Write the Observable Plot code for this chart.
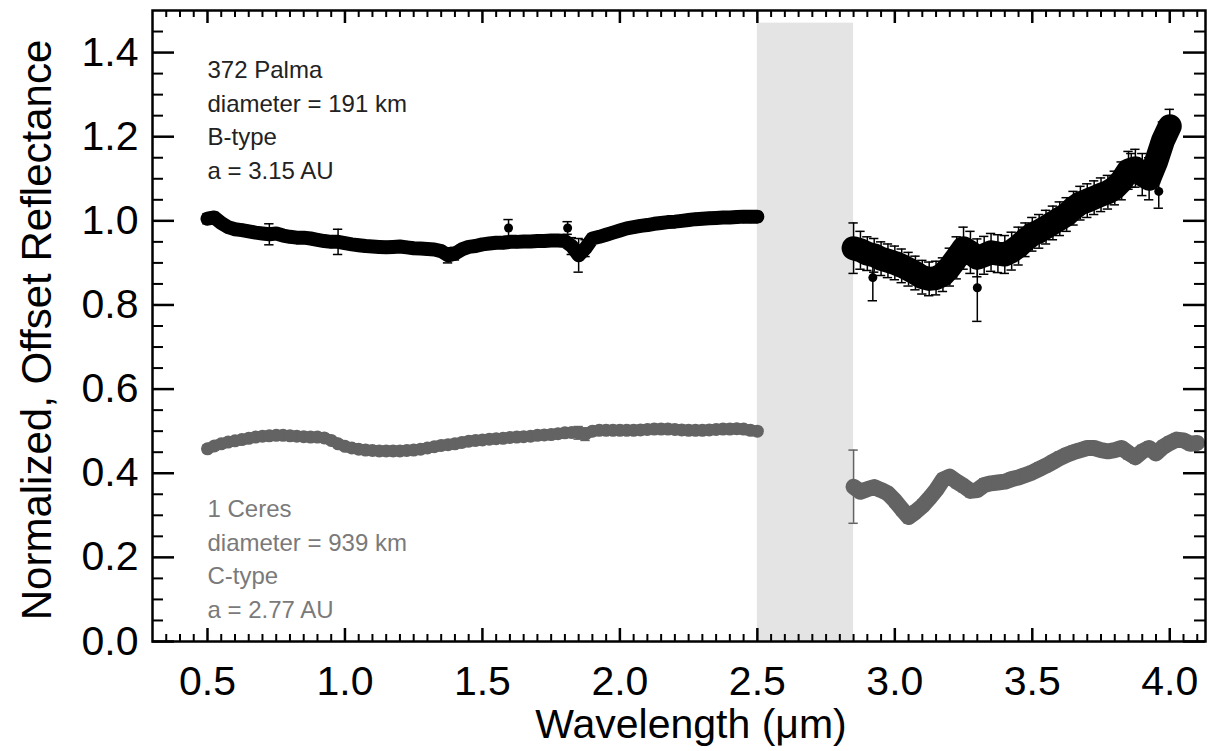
<!DOCTYPE html>
<html>
<head>
<meta charset="utf-8">
<script src="https://cdn.jsdelivr.net/npm/d3@7"></script>
<script src="https://cdn.jsdelivr.net/npm/@observablehq/plot@0.6"></script>
<style>
  html, body { margin: 0; padding: 0; background: #fff; }
  #chart { width: 1211px; height: 751px; }
</style>
</head>
<body>
<div id="chart"></div>
<script>
// ---------- Data ----------
const wlVis = [0.500,0.525,0.550,0.575,0.600,0.625,0.650,0.675,0.700,0.725,0.750,0.775,0.800,0.825,0.850,0.875,0.900,0.925,0.950,0.975,
  1.000,1.025,1.050,1.075,1.100,1.125,1.150,1.175,1.200,1.225,1.250,1.275,1.300,1.325,1.350,1.375,1.400,1.425,1.450,1.475,
  1.500,1.525,1.550,1.575,1.600,1.625,1.650,1.675,1.700,1.725,1.750,1.775,1.800,1.825,1.850,1.875,1.900,1.925,1.950,1.975,
  2.000,2.025,2.050,2.075,2.100,2.125,2.150,2.175,2.200,2.225,2.250,2.275,2.300,2.325,2.350,2.375,2.400,2.425,2.450,2.475,2.500];

const palmaVis = [1.005,1.008,0.995,0.985,0.980,0.978,0.975,0.972,0.970,0.968,0.970,0.965,0.962,0.960,0.960,0.958,0.955,0.952,0.950,0.950,
  0.947,0.944,0.942,0.940,0.939,0.938,0.937,0.938,0.939,0.937,0.935,0.934,0.933,0.932,0.928,0.918,0.922,0.932,0.938,0.940,
  0.944,0.946,0.948,0.948,0.950,0.950,0.951,0.951,0.952,0.952,0.953,0.953,0.952,0.940,0.918,0.935,0.958,0.962,0.967,0.972,
  0.977,0.982,0.985,0.988,0.990,0.993,0.995,0.997,0.998,1.000,1.002,1.004,1.005,1.006,1.007,1.008,1.008,1.009,1.010,1.010,1.010];
const palmaVisErr = [0.012,0.012,0.010,0.010,0.010,0.010,0.010,0.010,0.010,0.025,0.010,0.010,0.010,0.010,0.010,0.010,0.010,0.010,0.010,0.030,
  0.010,0.010,0.010,0.010,0.010,0.010,0.010,0.010,0.010,0.010,0.010,0.010,0.010,0.010,0.012,0.018,0.015,0.010,0.010,0.010,
  0.010,0.010,0.010,0.010,0.010,0.010,0.010,0.010,0.010,0.010,0.010,0.010,0.010,0.020,0.040,0.020,0.010,0.010,0.010,0.010,
  0.010,0.010,0.010,0.010,0.010,0.010,0.010,0.010,0.010,0.010,0.010,0.010,0.010,0.010,0.010,0.010,0.010,0.010,0.010,0.010,0.012];

const wlIrPalma = [2.850,2.875,2.900,2.925,2.950,2.975,3.000,3.025,3.050,3.075,3.100,3.125,3.150,3.175,3.200,3.225,3.250,3.275,3.300,3.325,
  3.350,3.375,3.400,3.425,3.450,3.475,3.500,3.525,3.550,3.575,3.600,3.625,3.650,3.675,3.700,3.725,3.750,3.775,3.800,3.825,
  3.850,3.875,3.900,3.925,3.950,3.975,4.000];
const palmaIr = [0.935,0.930,0.922,0.918,0.910,0.905,0.900,0.893,0.885,0.876,0.866,0.862,0.864,0.872,0.890,0.912,0.935,0.925,0.912,0.918,
  0.925,0.922,0.920,0.928,0.940,0.955,0.968,0.975,0.985,0.995,1.005,1.015,1.030,1.042,1.048,1.055,1.062,1.068,1.078,1.095,
  1.120,1.125,1.110,1.100,1.140,1.190,1.225];
const palmaIrErr = [0.060,0.045,0.040,0.040,0.040,0.040,0.040,0.040,0.040,0.040,0.040,0.040,0.040,0.040,0.045,0.050,0.050,0.050,0.045,0.045,
  0.045,0.045,0.045,0.045,0.045,0.040,0.040,0.040,0.040,0.040,0.040,0.040,0.040,0.040,0.040,0.040,0.040,0.040,0.040,0.045,
  0.045,0.045,0.050,0.050,0.050,0.045,0.040];

// isolated Palma points standing off the main trend
const palmaExtraWl  = [1.595, 1.810, 2.920, 3.300, 3.860, 3.960];
const palmaExtraR   = [0.983, 0.983, 0.865, 0.841, 1.120, 1.070];
const palmaExtraErr = [0.020, 0.015, 0.055, 0.080, 0.040, 0.040];

const ceresVis = [0.458,0.465,0.470,0.474,0.477,0.480,0.483,0.486,0.488,0.489,0.490,0.490,0.489,0.488,0.487,0.486,0.486,0.484,0.478,0.470,
  0.464,0.460,0.457,0.455,0.454,0.453,0.453,0.453,0.453,0.454,0.455,0.457,0.460,0.463,0.466,0.468,0.470,0.473,0.476,0.478,
  0.479,0.481,0.482,0.483,0.485,0.486,0.487,0.488,0.490,0.491,0.492,0.494,0.496,0.497,0.496,0.493,0.500,0.502,0.502,0.502,
  0.502,0.502,0.502,0.503,0.504,0.505,0.505,0.505,0.504,0.503,0.502,0.502,0.502,0.503,0.504,0.505,0.505,0.506,0.505,0.502,0.500];
const ceresVisErr = [0.008,0.007,0.006,0.006,0.006,0.006,0.006,0.006,0.006,0.006,0.006,0.006,0.006,0.006,0.006,0.006,0.006,0.006,0.006,0.006,
  0.006,0.006,0.006,0.006,0.006,0.006,0.006,0.006,0.006,0.006,0.006,0.006,0.006,0.006,0.006,0.006,0.006,0.006,0.006,0.006,
  0.006,0.006,0.006,0.006,0.006,0.006,0.006,0.006,0.006,0.006,0.006,0.006,0.006,0.010,0.015,0.015,0.008,0.006,0.006,0.006,
  0.006,0.006,0.006,0.006,0.006,0.006,0.006,0.006,0.006,0.006,0.006,0.006,0.006,0.006,0.006,0.006,0.006,0.006,0.008,0.010,0.010];

const wlIrCeres = [2.850,2.875,2.900,2.925,2.950,2.975,3.000,3.025,3.050,3.075,3.100,3.125,3.150,3.175,3.200,3.225,3.250,3.275,3.300,3.325,
  3.350,3.375,3.400,3.425,3.450,3.475,3.500,3.525,3.550,3.575,3.600,3.625,3.650,3.675,3.700,3.725,3.750,3.775,3.800,3.825,
  3.850,3.875,3.900,3.925,3.950,3.975,4.000,4.025,4.050,4.075,4.100];
const ceresIr = [0.368,0.356,0.362,0.367,0.360,0.352,0.335,0.315,0.296,0.308,0.322,0.340,0.360,0.385,0.392,0.380,0.370,0.358,0.360,0.372,
  0.376,0.378,0.380,0.386,0.390,0.396,0.402,0.410,0.418,0.427,0.436,0.444,0.450,0.455,0.460,0.460,0.455,0.452,0.455,0.460,
  0.448,0.438,0.452,0.460,0.447,0.462,0.472,0.480,0.478,0.470,0.472];
const ceresIrErr = [0.087,0.014,0.014,0.014,0.014,0.014,0.014,0.014,0.014,0.014,0.014,0.014,0.014,0.014,0.014,0.014,0.014,0.014,0.014,0.014,
  0.014,0.014,0.014,0.014,0.014,0.014,0.014,0.014,0.014,0.014,0.014,0.014,0.014,0.014,0.014,0.014,0.014,0.014,0.014,0.014,
  0.014,0.014,0.014,0.014,0.014,0.014,0.014,0.014,0.014,0.014,0.014];

// shaded gap (telluric water band)
const gapX1 = [2.50], gapX2 = [2.85], gapY1 = [0.0], gapY2 = [1.47];

// axes & labels
const xMajorTicks = [0.5, 1.0, 1.5, 2.0, 2.5, 3.0, 3.5, 4.0];
const yMajorTicks = [0.0, 0.2, 0.4, 0.6, 0.8, 1.0, 1.2, 1.4];
const xLabel = "Wavelength (\u03bcm)";
const yLabel = "Normalized, Offset Reflectance";
const palmaNote = ["372 Palma", "diameter = 191 km", "B-type", "a = 3.15 AU"];
const ceresNote = ["1 Ceres", "diameter = 939 km", "C-type", "a = 2.77 AU"];
const noteX = [0.5, 0.5];
const noteY = [1.396, 0.352];

// ---------- Build tables ----------
const rows = (w, r, e, seg) => w.map((x, i) => ({w: x, r: r[i], e: e[i], seg}));
const palmaV = rows(wlVis, palmaVis, palmaVisErr, "vis");
const palmaI = rows(wlIrPalma, palmaIr, palmaIrErr, "ir");
const palma = palmaV.concat(palmaI);
const palmaExtra = rows(palmaExtraWl, palmaExtraR, palmaExtraErr, "x");
const ceresV = rows(wlVis, ceresVis, ceresVisErr, "vis");
const ceresI = rows(wlIrCeres, ceresIr, ceresIrErr, "ir");
const ceres = ceresV.concat(ceresI);
const gap = gapX1.map((d, i) => ({x1: d, x2: gapX2[i], y1: gapY1[i], y2: gapY2[i]}));
const xMinorTicks = d3.range(7, 83).map(k => +(k * 0.05).toFixed(2)).filter(v => !xMajorTicks.some(m => Math.abs(m - v) < 1e-6));
const yMinorTicks = d3.range(1, 30).map(k => +(k * 0.05).toFixed(2)).filter(v => !yMajorTicks.some(m => Math.abs(m - v) < 1e-6));

const W = 1211, H = 751;
const mL = 152, mR = 6, mT = 10, mB = 110;
const pw = W - mL - mR, ph = H - mT - mB;
const BLACK = "#000", GREY = "#636363", NOTEGREY = "#7a7a7a";
const capW = 0.017;

function errMarks(data, color, sw) {
  return [
    Plot.ruleX(data, {x: "w", y1: d => d.r - d.e, y2: d => d.r + d.e, stroke: color, strokeWidth: sw}),
    Plot.ruleY(data, {y: d => d.r + d.e, x1: d => d.w - capW, x2: d => d.w + capW, stroke: color, strokeWidth: sw}),
    Plot.ruleY(data, {y: d => d.r - d.e, x1: d => d.w - capW, x2: d => d.w + capW, stroke: color, strokeWidth: sw})
  ];
}

const chart = Plot.plot({
  width: W, height: H,
  marginLeft: mL, marginRight: mR, marginTop: mT, marginBottom: mB,
  style: {fontFamily: "'Liberation Sans', Arial, Helvetica, sans-serif", background: "#fff", color: "#000"},
  x: {domain: [0.3, 4.13]},
  y: {domain: [0, 1.5]},
  marks: [
    Plot.rect(gap, {x1: "x1", x2: "x2", y1: "y1", y2: "y2", fill: "#e4e4e4"}),
    // Ceres
    ...errMarks(ceres, GREY, 1.5),
    Plot.line(ceresV, {x: "w", y: "r", stroke: GREY, strokeWidth: 11, strokeLinejoin: "round", strokeLinecap: "round"}),
    Plot.line(ceresI, {x: "w", y: "r", stroke: GREY, strokeWidth: 16, strokeLinejoin: "round", strokeLinecap: "round"}),
    Plot.dot(ceres, {x: "w", y: "r", r: 6.5, fill: GREY}),
    // Palma
    ...errMarks(palma, BLACK, 1.5),
    ...errMarks(palmaExtra, BLACK, 1.5),
    Plot.line(palmaV, {x: "w", y: "r", stroke: BLACK, strokeWidth: 14, strokeLinejoin: "round", strokeLinecap: "round"}),
    Plot.line(palmaI, {x: "w", y: "r", stroke: BLACK, strokeWidth: 24, strokeLinejoin: "round", strokeLinecap: "round"}),
    Plot.dot(palma, {x: "w", y: "r", r: 6.5, fill: BLACK}),
    Plot.dot(palmaExtra, {x: "w", y: "r", r: 4.5, fill: BLACK}),
    Plot.text([palmaNote.join("\n")], {x: noteX[0], y: noteY[0], textAnchor: "start", lineAnchor: "top", lineHeight: 1.4, fontSize: 24, fill: "#222"}),
    Plot.text([ceresNote.join("\n")], {x: noteX[1], y: noteY[1], textAnchor: "start", lineAnchor: "top", lineHeight: 1.4, fontSize: 24, fill: NOTEGREY}),
    // inward ticks: bottom / top
    Plot.tickX(xMajorTicks, {x: d => d, insetTop: ph - 13, stroke: BLACK, strokeWidth: 2.5}),
    Plot.tickX(xMinorTicks, {x: d => d, insetTop: ph - 7, stroke: BLACK, strokeWidth: 2}),
    Plot.tickX(xMajorTicks, {x: d => d, insetBottom: ph - 13, stroke: BLACK, strokeWidth: 2.5}),
    Plot.tickX(xMinorTicks, {x: d => d, insetBottom: ph - 7, stroke: BLACK, strokeWidth: 2}),
    // inward ticks: left / right
    Plot.tickY(yMajorTicks, {y: d => d, insetRight: pw - 22, stroke: BLACK, strokeWidth: 2.5}),
    Plot.tickY(yMinorTicks, {y: d => d, insetRight: pw - 11, stroke: BLACK, strokeWidth: 2}),
    Plot.tickY(yMajorTicks, {y: d => d, insetLeft: pw - 22, stroke: BLACK, strokeWidth: 2.5}),
    Plot.tickY(yMinorTicks, {y: d => d, insetLeft: pw - 11, stroke: BLACK, strokeWidth: 2}),
    Plot.axisX({ticks: xMajorTicks, tickFormat: d3.format(".1f"), tickSize: 0, tickPadding: 24, fontSize: 41, label: null}),
    Plot.axisY({ticks: yMajorTicks, tickFormat: d3.format(".1f"), tickSize: 0, tickPadding: 14, fontSize: 41, label: null}),
    Plot.text([xLabel], {frameAnchor: "bottom", lineAnchor: "middle", textAnchor: "middle", dy: 83, dx: 12, fontSize: 41, fill: BLACK}),
    Plot.text([yLabel], {frameAnchor: "left", lineAnchor: "middle", textAnchor: "middle", rotate: -90, dx: -115, dy: 4, fontSize: 42, fill: BLACK}),
    Plot.frame({stroke: BLACK, strokeWidth: 2.5})
  ]
});
document.getElementById("chart").appendChild(chart);
</script>
</body>
</html>
